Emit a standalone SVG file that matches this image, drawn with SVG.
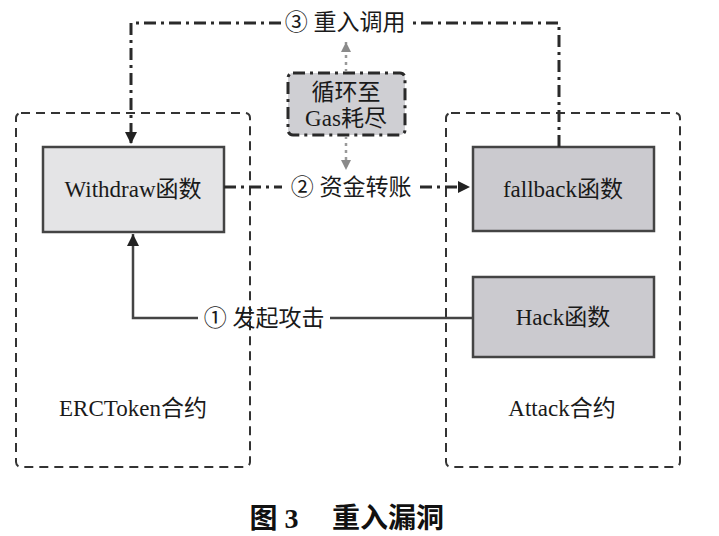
<svg xmlns="http://www.w3.org/2000/svg" width="719" height="536" viewBox="0 0 719 536">
<style>
.t{font-family:"Liberation Serif","Noto Sans CJK SC",serif;font-size:23px;fill:#1a1a1a;text-anchor:middle}
.cap{font-family:"Liberation Serif","Noto Sans CJK SC",serif;font-size:28px;font-weight:bold;text-anchor:middle;fill:#111}
.cont{fill:none;stroke:#333;stroke-width:2;stroke-dasharray:9 6}
.box{stroke:#444;stroke-width:2.5}
.dd{fill:none;stroke:#2a2a2a;stroke-width:3;stroke-dasharray:12 5 3 5}
.gd{fill:none;stroke:#999;stroke-width:2.5;stroke-dasharray:3 4}
.solid{fill:none;stroke:#444;stroke-width:2.5}
</style>
<defs>
<marker id="ahd" viewBox="0 0 10 10" refX="10" refY="5" markerWidth="16" markerHeight="12" orient="auto" markerUnits="userSpaceOnUse">
<path d="M0,0 L10,5 L0,10 z" fill="#222"/>
</marker>
<marker id="ahg" viewBox="0 0 10 10" refX="10" refY="5" markerWidth="14" markerHeight="10" orient="auto" markerUnits="userSpaceOnUse">
<path d="M0,0 L10,5 L0,10 z" fill="#8a8a8a"/>
</marker>
</defs>
<rect width="719" height="536" fill="#fff"/>
<g id="erctoken">
<rect class="cont" x="16" y="113" width="234" height="354" rx="5"/>
<text class="t" x="133" y="416">ERCToken合约</text>
</g>
<g id="attack">
<rect class="cont" x="446" y="113" width="234" height="354" rx="5"/>
<text class="t" x="562" y="416">Attack合约</text>
</g>
<g id="withdraw">
<rect class="box" x="43" y="147" width="181" height="85" fill="#e4e4e6"/>
<text class="t" x="133" y="197">Withdraw函数</text>
</g>
<g id="fallback">
<rect class="box" x="473" y="147" width="181" height="84" fill="#cbcacf"/>
<text class="t" x="563" y="197">fallback函数</text>
</g>
<g id="hack">
<rect class="box" x="473" y="277" width="181" height="80" fill="#cbcacf"/>
<text class="t" x="563" y="325">Hack函数</text>
</g>
<g id="gas">
<rect x="288" y="73" width="117" height="62" rx="5" fill="#cfcfd3" stroke="#2a2a2a" stroke-width="3" stroke-dasharray="12 5 3 5"/>
<text class="t" x="346" y="100">循环至</text>
<text class="t" x="346" y="126">Gas耗尽</text>
</g>
<g id="connectors">
<path class="dd" d="M559,147 V23 H409"/>
<path class="dd" d="M281,23 H131 V144" marker-end="url(#ahd)"/>
<text class="t" x="345" y="30">③ 重入调用</text>
<path class="dd" d="M224,187 H282"/>
<path class="dd" d="M420,187 H470" marker-end="url(#ahd)"/>
<text class="t" x="351" y="195">② 资金转账</text>
<path class="gd" d="M346,72 V42" marker-end="url(#ahg)"/>
<path class="gd" d="M346,136 V170" marker-end="url(#ahg)"/>
<path class="solid" d="M473,318 H330"/>
<path class="solid" d="M198,318 H133 V234" marker-end="url(#ahd)"/>
<text class="t" x="264" y="326">① 发起攻击</text>
</g>
<g id="caption">
<text class="cap" x="274" y="528">图 3</text>
<text class="cap" x="388" y="528">重入漏洞</text>
</g>
</svg>
